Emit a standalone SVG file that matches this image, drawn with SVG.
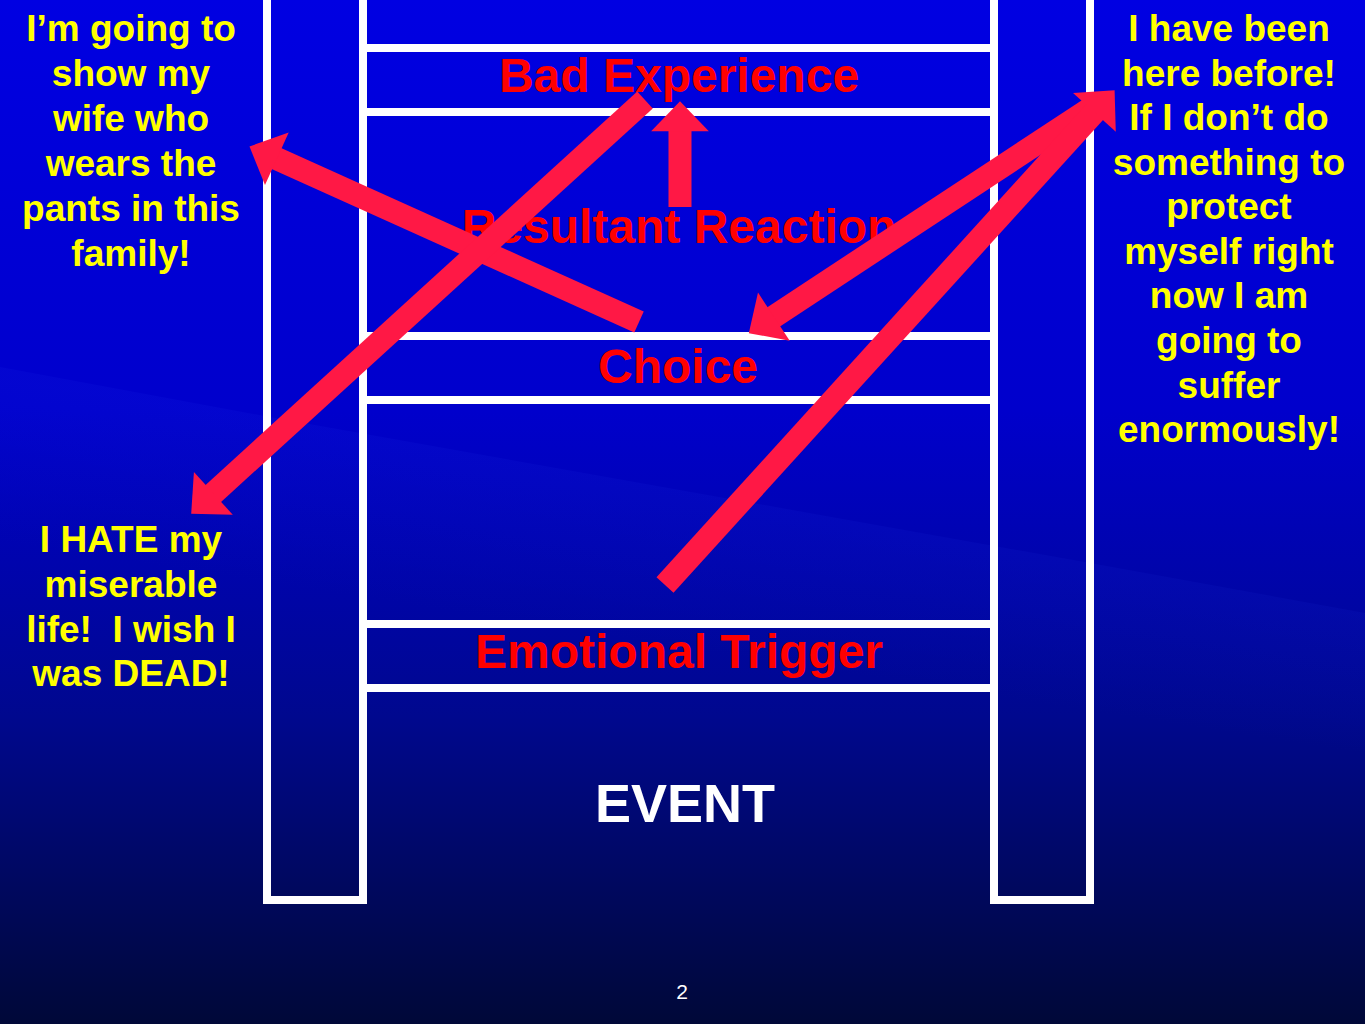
<svg xmlns="http://www.w3.org/2000/svg" width="1365" height="1024" viewBox="0 0 1365 1024">
<defs>
<linearGradient id="bg" x1="0" y1="0" x2="0" y2="1">
<stop offset="0" stop-color="#0000E2"/>
<stop offset="0.4" stop-color="#0000CC"/>
<stop offset="0.7" stop-color="#00088E"/>
<stop offset="1" stop-color="#000838"/>
</linearGradient>
<linearGradient id="wave" gradientUnits="userSpaceOnUse" x1="700" y1="490" x2="675" y2="650">
<stop offset="0" stop-color="#3050ff" stop-opacity="0.07"/>
<stop offset="1" stop-color="#3050ff" stop-opacity="0"/>
</linearGradient>
<marker id="head" markerUnits="userSpaceOnUse" orient="auto" refX="0" refY="0" markerWidth="60" markerHeight="60" viewBox="-1 -26 28 52" overflow="visible">
<path d="M-1,-25 L25,0 L-1,25 Z" class="arrowfill"/>
</marker>
<style>
.rail{fill:none;stroke:#FFFFFF;stroke-width:8}
.rung{stroke:#FFFFFF;stroke-width:8}
.lbl{font-family:"Liberation Sans",Arial,sans-serif;font-weight:bold;font-size:48px;fill:#FF0000;text-anchor:middle}
.evt{font-family:"Liberation Sans",Arial,sans-serif;font-weight:bold;font-size:54px;fill:#FFFFFF;text-anchor:middle}
.note{font-family:"Liberation Sans",Arial,sans-serif;font-weight:bold;font-size:37px;fill:#FFFF00;text-anchor:middle;white-space:pre}
.pg{font-family:"Liberation Sans",Arial,sans-serif;font-size:21px;fill:#FFFFFF;text-anchor:middle}
.arrow{stroke:#FF1845;stroke-width:23;fill:none;marker-end:url(#head)}
.arrowfill{fill:#FF1845}
</style>
</defs>

<g id="background">
<rect x="0" y="0" width="1365" height="1024" fill="url(#bg)"/>
<path d="M0,367 L270,417 L1090,563 L1365,613 L1365,1024 L0,1024 Z" fill="url(#wave)"/>
</g>

<g id="ladder">
<rect class="rail" x="267" y="-20" width="96" height="920"/>
<rect class="rail" x="994" y="-20" width="96" height="920"/>
<line class="rung" x1="363" y1="48" x2="994" y2="48"/>
<line class="rung" x1="363" y1="112" x2="994" y2="112"/>
<line class="rung" x1="363" y1="336" x2="994" y2="336"/>
<line class="rung" x1="363" y1="400" x2="994" y2="400"/>
<line class="rung" x1="363" y1="624" x2="994" y2="624"/>
<line class="rung" x1="363" y1="688" x2="994" y2="688"/>
</g>

<g id="bad-experience"><text class="lbl" x="679" y="92">Bad Experience</text></g>
<g id="resultant-reaction"><text class="lbl" x="679" y="243">Resultant Reaction</text></g>
<g id="choice"><text class="lbl" x="678" y="383">Choice</text></g>
<g id="emotional-trigger"><text class="lbl" x="679" y="668">Emotional Trigger</text></g>
<g id="event"><text class="evt" x="685" y="822">EVENT</text></g>

<g id="note-pants">
<text class="note" x="131" y="41">I’m going to</text>
<text class="note" x="131" y="86">show my</text>
<text class="note" x="131" y="131">wife who</text>
<text class="note" x="131" y="176">wears the</text>
<text class="note" x="131" y="221">pants in this</text>
<text class="note" x="131" y="266">family!</text>
</g>

<g id="note-hate">
<text class="note" x="131" y="552">I HATE my</text>
<text class="note" x="131" y="597">miserable</text>
<text class="note" x="131" y="642">life!  I wish I</text>
<text class="note" x="131" y="686">was DEAD!</text>
</g>

<g id="note-protect">
<text class="note" x="1229" y="41">I have been</text>
<text class="note" x="1229" y="86">here before!</text>
<text class="note" x="1229" y="130">If I don’t do</text>
<text class="note" x="1229" y="175">something to</text>
<text class="note" x="1229" y="219">protect</text>
<text class="note" x="1229" y="264">myself right</text>
<text class="note" x="1229" y="308">now I am</text>
<text class="note" x="1229" y="353">going to</text>
<text class="note" x="1229" y="398">suffer</text>
<text class="note" x="1229" y="442">enormously!</text>
</g>

<g id="page-number"><text class="pg" x="682" y="999">2</text></g>

<g id="connectors">
<line class="arrow" x1="680" y1="207" x2="680" y2="130"/>
<line class="arrow" x1="639" y1="322" x2="275.8" y2="158.3"/>
<line class="arrow" x1="645" y1="100" x2="212.5" y2="494.2"/>
<line class="arrow" x1="1100" y1="102" x2="772.9" y2="317.3"/>
<line class="arrow" x1="665" y1="585" x2="1095.2" y2="111.5"/>
</g>
</svg>
